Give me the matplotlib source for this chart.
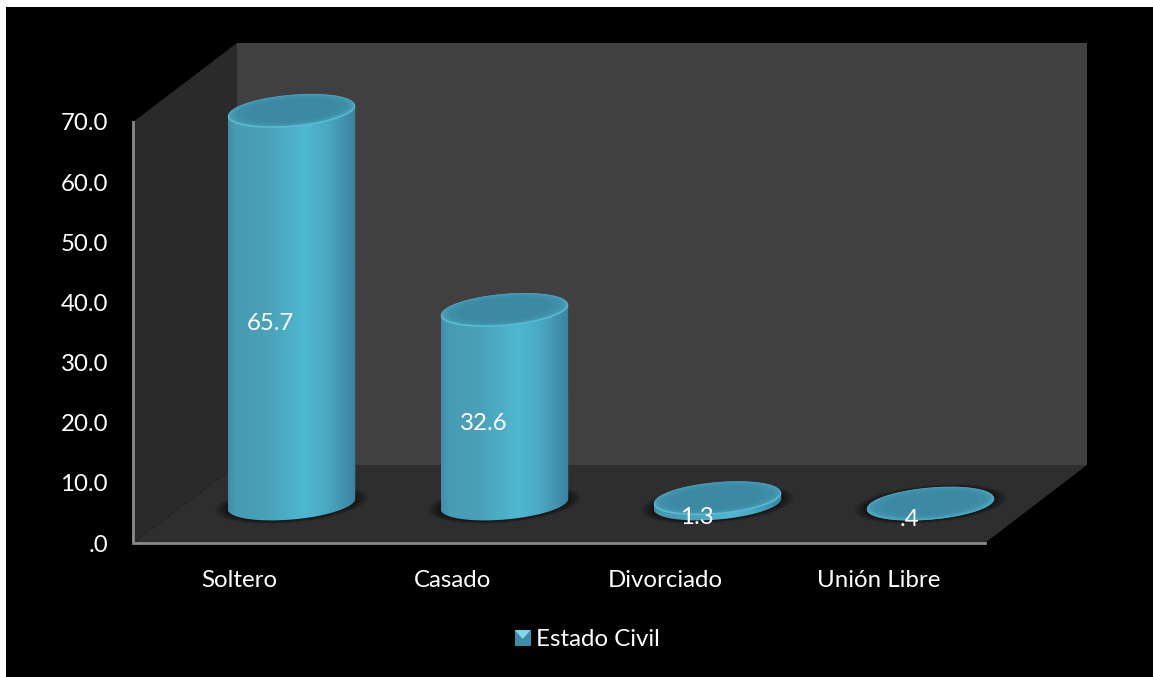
import numpy as np
import matplotlib
matplotlib.use("Agg")
import matplotlib.pyplot as plt
from matplotlib.legend_handler import HandlerBase
from matplotlib.patches import Polygon, Rectangle
from matplotlib.path import Path
from matplotlib.transforms import Affine2D, IdentityTransform

#-----Data-----#
Categories = ["Soltero", "Casado", "Divorciado", "Unión Libre"]
Values = [65.7, 32.6, 1.3, 0.4]
ValueLabels = ["65.7", "32.6", "1.3", ".4"]
YTicks = [0, 10, 20, 30, 40, 50, 60, 70]
YTickLabels = [".0", "10.0", "20.0", "30.0", "40.0", "50.0", "60.0", "70.0"]
SeriesName = "Estado Civil"
#-----Data-----#

W, H = 1153, 677
plt.rcParams["font.family"] = ["Lato", "DejaVu Sans"]
TextColor = "white"
Fig = plt.figure(figsize=(W / 100, H / 100), dpi=100, facecolor="white")


#Full figure axes in image pixels, only for the chart frame
Bg = Fig.add_axes([0, 0, 1, 1], zorder=0)
Bg.set_xlim(0, W)
Bg.set_ylim(H, 0)
Bg.axis("off")
Bg.add_patch(Rectangle((6, 7), W - 6, H - 7, color="black", lw=0))
Bg.add_patch(Polygon([(237, 43), (1087, 43), (1087, 465), (237, 465)], color="#404040", lw=0))
Bg.add_patch(Polygon([(133, 122), (237, 43), (237, 465), (133, 543)], color="#2a2a2a", lw=0))
Bg.add_patch(Polygon([(133, 543), (237, 465), (1087, 465), (985, 543)], color="#2e2e2e", lw=0))
Bg.plot([133, 133, 985], [122, 543, 543], color="#8a8a8a", lw=2, solid_joinstyle="miter")

#Front plane of the 3D box is the real value axis
Ax = Fig.add_axes([133 / W, 1 - 543 / H, 852 / W, 421 / H], zorder=1)
Ax.patch.set_alpha(0)
Ax.set_xlim(-0.5, 3.5)
Ax.set_ylim(0, 70)
for Spine in Ax.spines.values():
    Spine.set_visible(False)
Ax.set_yticks(YTicks)
Ax.set_yticklabels(YTickLabels)
Ax.set_xticks(range(len(Categories)))
Ax.set_xticklabels(Categories)
Ax.tick_params(axis="y", length=0, pad=18, labelsize=17.3, labelcolor=TextColor)
Ax.tick_params(axis="x", length=0, pad=19.5, labelsize=17.3, labelcolor=TextColor)

#Bars stand half way into the box depth
Depth = Affine2D().translate(52, 36.5)
BarTrans = Ax.transData + Depth
BarW = 64.0
BarH = 15.5
BaseLift = 2.5
Tilt = np.radians(5)
SideStops = [0, 0.06, 0.3, 0.6, 0.78, 0.94, 1]
SideR = [0.26, 0.28, 0.29, 0.31, 0.29, 0.25, 0.23]
SideG = [0.56, 0.61, 0.63, 0.72, 0.66, 0.55, 0.51]
SideB = [0.66, 0.70, 0.72, 0.82, 0.76, 0.66, 0.61]


def EllipsePoints(Cx, Cy, Scale=1.0):
    T = np.linspace(0, 2 * np.pi, 181)[:-1]
    A = BarW * Scale
    B = BarH * Scale
    X = Cx + A * np.cos(T) * np.cos(Tilt) - B * np.sin(T) * np.sin(Tilt)
    Y = Cy + A * np.cos(T) * np.sin(Tilt) + B * np.sin(T) * np.cos(Tilt)
    return np.column_stack([X, Y])


def AddPixelShape(Points, Color, Z, Alpha=1.0):
    Patch = Polygon(Points, closed=True, color=Color, lw=0, alpha=Alpha,
                    transform=IdentityTransform(), clip_on=False, zorder=Z)
    Ax.add_patch(Patch)
    return Patch


def DrawCylinder(Pos, Value, Z):
    Base = BarTrans.transform((Pos, 0))
    Top = BarTrans.transform((Pos, Value))

    #Soft shadow on the floor
    for Scale in np.linspace(1.2, 1.0, 12):
        AddPixelShape(EllipsePoints(Base[0], Base[1] + BaseLift, Scale), "black", Z, 0.05)

    #Side of the cylinder, a ramp clipped to its outline
    Low = EllipsePoints(Base[0], Base[1] + BaseLift)
    High = EllipsePoints(Top[0], Top[1])
    Left = np.argmin(Low[:, 0])
    Right = np.argmax(Low[:, 0])
    LowArc = np.roll(Low, -Left, axis=0)[:(Right - Left) % len(Low) + 1]
    HighArc = np.roll(High, -Right, axis=0)[:(Left - Right) % len(High) + 1]
    Outline = np.vstack([LowArc, HighArc, LowArc[:1]])
    Ramp = np.linspace(0, 1, 128)
    Shade = np.dstack([np.interp(Ramp, SideStops, SideR),
                       np.interp(Ramp, SideStops, SideG),
                       np.interp(Ramp, SideStops, SideB)])
    DataW = BarW / (852 / 4)
    Img = Ax.imshow(Shade, extent=(Pos - DataW, Pos + DataW, -8, Value + 8),
                    aspect="auto", zorder=Z + 0.1, interpolation="bilinear")
    Img.set_transform(BarTrans)
    Img.set_clip_box(Fig.bbox)
    Img.set_clip_path(Path(Outline), IdentityTransform())

    #Top cap, light front rim and a darker centre (very flat bars have no rim)
    RimColor = "#5bbdd6" if Value > 1 else "#4ca6bf"
    AddPixelShape(High, RimColor, Z + 0.2)
    for Scale, Color in zip([0.99, 0.97, 0.94, 0.88, 0.75],
                            ["#4ca6bf", "#479db5", "#4395ae", "#3f8ea9", "#3c89a4"]):
        AddPixelShape(EllipsePoints(Top[0], Top[1] + 1.2, Scale), Color, Z + 0.3)


for i, Value in enumerate(Values):
    DrawCylinder(i, Value, 2 + i)
    Ax.annotate(ValueLabels[i], (i, Value / 2), xytext=(22.3, 15.8), textcoords="offset points",
                ha="center", va="center", fontsize=17.3, color="white", zorder=10)

Ax.set_xlim(-0.5, 3.5)
Ax.set_ylim(0, 70)


#Legend key is a small bevelled square
class KeyHandler(HandlerBase):
    def create_artists(self, legend, orig_handle, xdescent, ydescent, width, height, fontsize, trans):
        S = 11.5
        X0 = (width - S) / 2 - xdescent
        Y0 = (height - S) / 2 - ydescent
        Box = Rectangle((X0, Y0), S, S, facecolor="#3f8ca7", edgecolor="none", transform=trans)
        Light = Polygon([(X0, Y0 + S), (X0 + S, Y0 + S), (X0 + S / 2, Y0 + S * 0.45)],
                        facecolor="#7fd8ec", edgecolor="none", transform=trans)
        return [Box, Light]


Key = Rectangle((0, 0), 1, 1)
Leg = Fig.legend([Key], [SeriesName], handler_map={Rectangle: KeyHandler()}, loc="center",
                 bbox_to_anchor=(587 / W, 1 - 640 / H), frameon=False, fontsize=17.3,
                 labelcolor=TextColor, handlelength=0.7, handletextpad=0.2, borderpad=0)

Fig.savefig("out.png", dpi=100, facecolor="white")
